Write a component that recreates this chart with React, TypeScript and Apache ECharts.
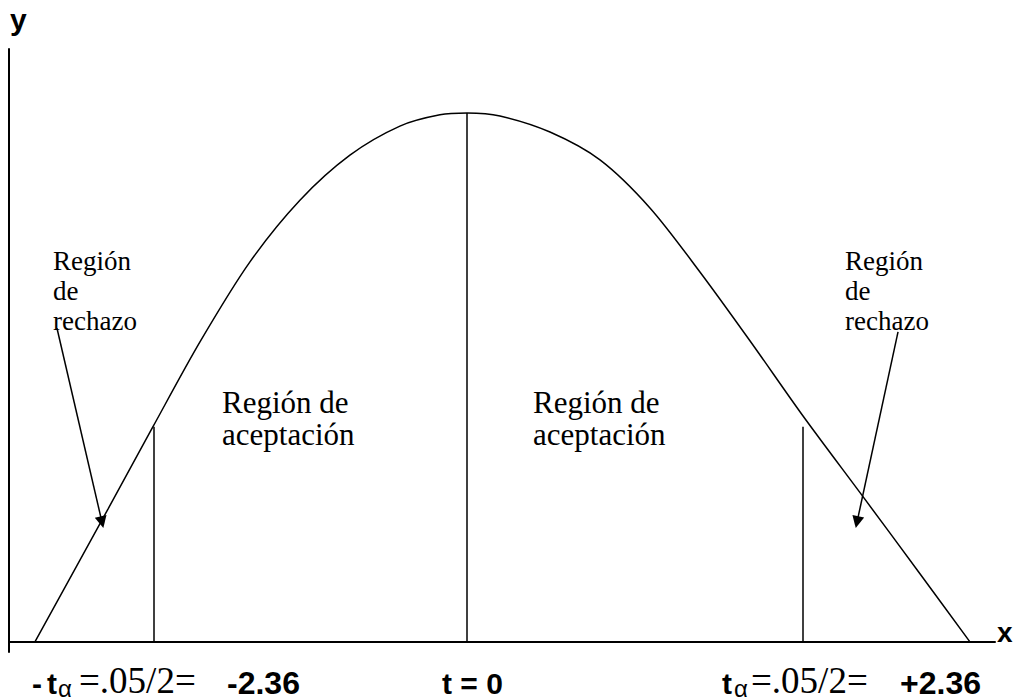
import React, { useEffect, useRef } from "react";
import * as echarts from "echarts";

// Curve of the t distribution sketch (x in t units, y in arbitrary height units)
const curveX = [-3.034, -2.521, -2.205, -1.875, -1.524, -1.173, -0.822, -0.471, -0.19, 0, 0.232, 0.583, 0.934, 1.285, 1.636, 1.987, 2.36, 2.781, 3.181, 3.532];
const curveY = [0, 22.4, 36.3, 50.6, 64.1, 74.5, 82.1, 87.0, 88.9, 89.2, 88.7, 86.0, 81.3, 73.2, 62.4, 50.8, 38.1, 24.5, 11.5, 0];

// Vertical cut lines
const cutX = [-2.2, 0, 2.36];
const cutTop = [36.3, 89.2, 36.3];

// Arrows from "Región de rechazo" labels into the tails
const arrowFrom = [[-2.879, 52.9], [3.027, 52.3]];
const arrowTo = [[-2.563, 20.2], [2.739, 20.2]];

const rejectLabel = "Región\nde\nrechazo";
const acceptLabel = "Región de\naceptación";
const centerLabel = "t = 0";
const critLeft = "-2.36";
const critRight = "+2.36";
const fracText = "=.05/2=";

const SERIF = "'Liberation Serif', 'Times New Roman', serif";
const SANS = "'Liberation Sans', Arial, sans-serif";

export default function App() {
  const ref = useRef<HTMLDivElement>(null);
  useEffect(() => {
    if (!ref.current) return;
    const chart = echarts.init(ref.current, undefined, { renderer: "svg" });
    const txt = (x: number, y: number, text: string, font: string, size: number, weight: string, extra: any = {}) => ({
      type: "text",
      x,
      y,
      style: {
        text,
        fill: "#000",
        fontFamily: font,
        fontSize: size,
        fontWeight: weight,
        lineHeight: size,
        verticalAlign: "middle",
        align: "left",
        ...extra,
      },
    });
    chart.setOption({
      animation: false,
      backgroundColor: "#fff",
      grid: { left: 9, top: 49, width: 986, height: 603 },
      xAxis: {
        type: "value",
        min: -3.216,
        max: 3.708,
        axisLine: { show: true, onZero: true, lineStyle: { color: "#000", width: 2 } },
        axisTick: { show: false },
        axisLabel: { show: false },
        splitLine: { show: false },
      },
      yAxis: {
        type: "value",
        min: -1.7,
        max: 100,
        axisLine: { show: true, onZero: false, lineStyle: { color: "#000", width: 2 } },
        axisTick: { show: false },
        axisLabel: { show: false },
        splitLine: { show: false },
      },
      series: [
        {
          type: "line",
          data: curveX.map((x, i) => [x, curveY[i]]),
          smooth: 0.3,
          symbol: "none",
          lineStyle: { color: "#000", width: 1.5 },
          silent: true,
        },
        {
          type: "lines",
          coordinateSystem: "cartesian2d",
          data: cutX.map((x, i) => ({ coords: [[x, 0], [x, cutTop[i]]] })),
          lineStyle: { color: "#000", width: 1.5, opacity: 1 },
          symbol: "none",
          silent: true,
        },
        {
          type: "lines",
          coordinateSystem: "cartesian2d",
          data: arrowFrom.map((f, i) => ({ coords: [f, arrowTo[i]] })),
          lineStyle: { color: "#000", width: 1.5, opacity: 1 },
          itemStyle: { color: "#000" },
          symbol: ["none", "triangle"],
          symbolSize: 12,
          silent: true,
        },
      ],
      graphic: [
        txt(10, 19, "y", SANS, 30, "bold"),
        txt(997, 632, "x", SANS, 28, "bold"),
        txt(53, 246, rejectLabel, SERIF, 27, "normal", { verticalAlign: "top", lineHeight: 30 }),
        txt(845, 246, rejectLabel, SERIF, 27, "normal", { verticalAlign: "top", lineHeight: 30 }),
        txt(222, 386, acceptLabel, SERIF, 31, "normal", { verticalAlign: "top", lineHeight: 32 }),
        txt(533, 386, acceptLabel, SERIF, 31, "normal", { verticalAlign: "top", lineHeight: 32 }),
        txt(442, 683, centerLabel, SANS, 30, "bold"),
        // left critical value label
        txt(32, 683, "-", SANS, 30, "bold"),
        txt(47, 683, "t", SANS, 30, "bold"),
        txt(58, 688, "α", SANS, 24, "normal"),
        txt(79, 680, fracText, SERIF, 37, "normal"),
        txt(227, 683, critLeft, SANS, 32, "bold"),
        // right critical value label
        txt(722, 683, "t", SANS, 30, "bold"),
        txt(734, 688, "α", SANS, 24, "normal"),
        txt(751, 680, fracText, SERIF, 37, "normal"),
        txt(900, 683, critRight, SANS, 32, "bold"),
      ],
    });
    return () => chart.dispose();
  }, []);
  return <div ref={ref} style={{ position: "absolute", left: 0, top: 0, width: 1013, height: 700 }} />;
}
